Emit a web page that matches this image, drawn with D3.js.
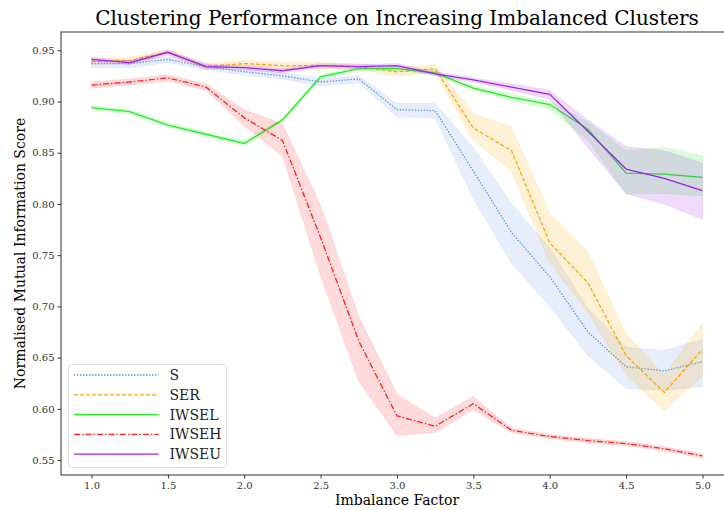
<!DOCTYPE html>
<html>
<head>
<meta charset="utf-8">
<script src="https://cdn.jsdelivr.net/npm/d3@7"></script>
<style>
  body { margin: 0; background: #fff; }
  svg { font-family: "DejaVu Serif", serif; }
</style>
</head>
<body>
<div id="chart"></div>
<script>
// imbalance factors on the x axis
var factors = [1.0, 1.25, 1.5, 1.75, 2.0, 2.25, 2.5, 2.75, 3.0, 3.25, 3.5, 3.75, 4.0, 4.25, 4.5, 4.75, 5.0];

// mean NMI score per method, with lower / upper band
var sMean = [0.937, 0.937, 0.941, 0.934, 0.929, 0.925, 0.919, 0.922, 0.892, 0.891, 0.832, 0.772, 0.729, 0.675, 0.641, 0.637, 0.646];
var sLow  = [0.933, 0.933, 0.938, 0.931, 0.926, 0.922, 0.915, 0.918, 0.885, 0.884, 0.805, 0.742, 0.700, 0.652, 0.620, 0.618, 0.622];
var sHigh = [0.940, 0.940, 0.944, 0.937, 0.932, 0.928, 0.922, 0.925, 0.898, 0.898, 0.855, 0.800, 0.757, 0.698, 0.660, 0.657, 0.668];

var serMean = [0.939, 0.940, 0.948, 0.934, 0.937, 0.935, 0.935, 0.934, 0.929, 0.932, 0.874, 0.852, 0.762, 0.723, 0.652, 0.616, 0.658];
var serLow  = [0.936, 0.937, 0.945, 0.931, 0.934, 0.932, 0.932, 0.931, 0.925, 0.928, 0.862, 0.832, 0.742, 0.694, 0.633, 0.598, 0.632];
var serHigh = [0.942, 0.943, 0.951, 0.937, 0.940, 0.938, 0.938, 0.937, 0.933, 0.936, 0.888, 0.875, 0.791, 0.753, 0.673, 0.633, 0.684];

var iwselMean = [0.894, 0.890, 0.877, 0.868, 0.859, 0.882, 0.924, 0.932, 0.932, 0.928, 0.913, 0.904, 0.897, 0.873, 0.830, 0.829, 0.826];
var iwselLow  = [0.892, 0.888, 0.875, 0.866, 0.857, 0.880, 0.922, 0.930, 0.930, 0.926, 0.911, 0.901, 0.893, 0.862, 0.810, 0.810, 0.808];
var iwselHigh = [0.896, 0.892, 0.879, 0.870, 0.861, 0.884, 0.926, 0.934, 0.934, 0.930, 0.915, 0.907, 0.900, 0.880, 0.852, 0.855, 0.847];

var iwsehMean = [0.916, 0.919, 0.923, 0.914, 0.884, 0.862, 0.767, 0.666, 0.593, 0.583, 0.605, 0.579, 0.573, 0.569, 0.566, 0.561, 0.554];
var iwsehLow  = [0.913, 0.916, 0.920, 0.911, 0.876, 0.847, 0.730, 0.627, 0.574, 0.577, 0.599, 0.577, 0.571, 0.567, 0.564, 0.559, 0.552];
var iwsehHigh = [0.919, 0.922, 0.926, 0.917, 0.892, 0.878, 0.798, 0.690, 0.614, 0.591, 0.612, 0.581, 0.575, 0.571, 0.568, 0.563, 0.556];

var iwseuMean = [0.941, 0.938, 0.948, 0.934, 0.933, 0.930, 0.935, 0.934, 0.935, 0.927, 0.921, 0.914, 0.907, 0.871, 0.834, 0.825, 0.813];
var iwseuLow  = [0.939, 0.936, 0.946, 0.932, 0.931, 0.928, 0.933, 0.932, 0.933, 0.925, 0.919, 0.911, 0.902, 0.855, 0.810, 0.800, 0.785];
var iwseuHigh = [0.943, 0.940, 0.950, 0.936, 0.935, 0.932, 0.937, 0.936, 0.937, 0.929, 0.923, 0.917, 0.911, 0.882, 0.856, 0.852, 0.840];

var xTicks = [1.0, 1.5, 2.0, 2.5, 3.0, 3.5, 4.0, 4.5, 5.0];
var yTicks = [0.55, 0.60, 0.65, 0.70, 0.75, 0.80, 0.85, 0.90, 0.95];

// series table built from the arrays above
var series = [
  { name: "S",     mean: sMean,     low: sLow,     high: sHigh,     color: "#6495ed", dash: "1.5,1.5" },
  { name: "SER",   mean: serMean,   low: serLow,   high: serHigh,   color: "#ffa500", dash: "4,2" },
  { name: "IWSEL", mean: iwselMean, low: iwselLow, high: iwselHigh, color: "#22ee22", dash: null },
  { name: "IWSEH", mean: iwsehMean, low: iwsehLow, high: iwsehHigh, color: "#ff2020", dash: "6,2,1.5,2" },
  { name: "IWSEU", mean: iwseuMean, low: iwseuLow, high: iwseuHigh, color: "#a020f0", dash: null }
];

var svgWidth = 724;
var svgHeight = 510;

var margin = { top: 32, left: 61 };
var plotWidth = 672;
var plotHeight = 443;

var svg = d3.select("#chart")
  .append("svg")
  .attr("width", svgWidth)
  .attr("height", svgHeight);

var g = svg.append("g")
  .attr("transform", `translate(${margin.left}, ${margin.top})`);

var xScale = d3.scaleLinear()
  .domain([0.8, 5.2])
  .range([0, plotWidth]);

var yScale = d3.scaleLinear()
  .domain([0.5354, 0.9678])
  .range([plotHeight, 0]);

// bands first then lines, per series
series.forEach(function(s) {
  var pts = factors.map(function(f, i) {
    return { x: f, m: s.mean[i], lo: s.low[i], hi: s.high[i] };
  });

  var area = d3.area()
    .x(d => xScale(d.x))
    .y0(d => yScale(d.lo))
    .y1(d => yScale(d.hi));

  g.append("path")
    .datum(pts)
    .attr("d", area)
    .attr("fill", s.color)
    .attr("fill-opacity", 0.16)
    .attr("stroke", s.color)
    .attr("stroke-opacity", 0.1);

  var line = d3.line()
    .x(d => xScale(d.x))
    .y(d => yScale(d.m));

  g.append("path")
    .datum(pts)
    .attr("d", line)
    .attr("fill", "none")
    .attr("stroke", s.color)
    .attr("stroke-width", 1.3)
    .attr("stroke-dasharray", s.dash);
});

// axes
var xAxis = g.append("g")
  .attr("transform", `translate(0, ${plotHeight})`)
  .call(d3.axisBottom(xScale).tickValues(xTicks).tickFormat(d3.format(".1f")).tickSizeOuter(0).tickSize(3.5).tickPadding(3));

var yAxis = g.append("g")
  .call(d3.axisLeft(yScale).tickValues(yTicks).tickFormat(d3.format(".2f")).tickSizeOuter(0).tickSize(3.5).tickPadding(3));

[xAxis, yAxis].forEach(function(ax) {
  ax.select(".domain").remove();
  ax.selectAll("line").attr("stroke", "#333");
  ax.selectAll("text")
    .attr("fill", "#333")
    .style("font-family", "DejaVu Serif")
    .style("font-size", "10px");
});

// frame
g.append("rect")
  .attr("x", 0)
  .attr("y", 0)
  .attr("width", plotWidth)
  .attr("height", plotHeight)
  .attr("fill", "none")
  .attr("stroke", "#333")
  .attr("stroke-width", 1);

// title and axis labels
svg.append("text")
  .attr("x", margin.left + plotWidth / 2)
  .attr("y", 25)
  .attr("text-anchor", "middle")
  .style("font-size", "20px")
  .text("Clustering Performance on Increasing Imbalanced Clusters");

svg.append("text")
  .attr("x", margin.left + plotWidth / 2)
  .attr("y", 505)
  .attr("text-anchor", "middle")
  .style("font-size", "14px")
  .text("Imbalance Factor");

svg.append("text")
  .attr("transform", `translate(25, ${margin.top + plotHeight / 2}) rotate(-90)`)
  .attr("text-anchor", "middle")
  .style("font-size", "14px")
  .text("Normalised Mutual Information Score");

// legend
var legend = svg.append("g")
  .attr("transform", "translate(68.5, 364.5)");

legend.append("rect")
  .attr("width", 158)
  .attr("height", 103)
  .attr("rx", 3)
  .attr("fill", "#fff")
  .attr("fill-opacity", 0.8)
  .attr("stroke", "#ddd");

series.forEach(function(s, i) {
  var y = 10.5 + i * 19.8;
  legend.append("line")
    .attr("x1", 5.5)
    .attr("x2", 90)
    .attr("y1", y)
    .attr("y2", y)
    .attr("stroke", s.color)
    .attr("stroke-width", 1.3)
    .attr("stroke-dasharray", s.dash);
  legend.append("text")
    .attr("x", 101)
    .attr("y", y + 5)
    .style("font-size", "14px")
    .attr("fill", "#222")
    .text(s.name);
});
</script>
</body>
</html>
